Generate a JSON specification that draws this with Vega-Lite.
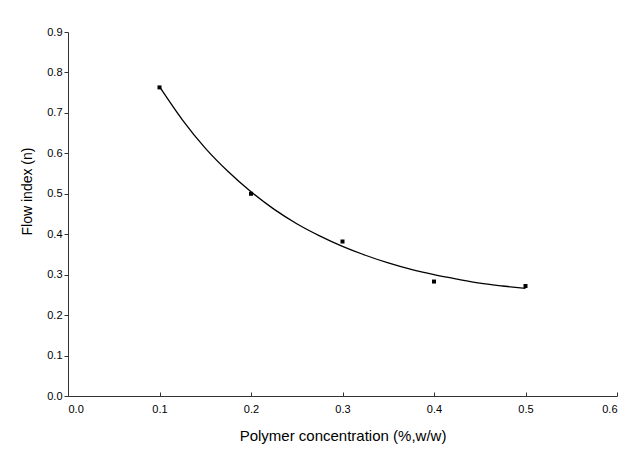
{
  "$schema": "https://vega.github.io/schema/vega-lite/v6.json",
  "width": 549,
  "height": 364,
  "autosize": {"type": "none"},
  "padding": {"left": 68, "top": 32, "right": 17, "bottom": 56},
  "background": "white",
  "config": {
    "view": {"stroke": null},
    "font": "Liberation Sans",
    "axis": {"grid": false, "domainColor": "#333", "tickColor": "#333", "labelColor": "#000", "titleColor": "#000", "labelFont": "Liberation Sans", "titleFont": "Liberation Sans", "titleFontWeight": "normal"}
  },
  "datasets": {
    "pts": [
      {"c": 0.1, "n": 0.763},
      {"c": 0.2, "n": 0.5},
      {"c": 0.3, "n": 0.382},
      {"c": 0.4, "n": 0.283},
      {"c": 0.5, "n": 0.272}
    ],
    "fit": [
      {"c": 0.1, "n": 0.765},
      {"c": 0.125, "n": 0.683},
      {"c": 0.15, "n": 0.613},
      {"c": 0.175, "n": 0.555},
      {"c": 0.2, "n": 0.505},
      {"c": 0.225, "n": 0.462},
      {"c": 0.25, "n": 0.426},
      {"c": 0.275, "n": 0.396},
      {"c": 0.3, "n": 0.37},
      {"c": 0.325, "n": 0.348},
      {"c": 0.35, "n": 0.329},
      {"c": 0.375, "n": 0.313},
      {"c": 0.4, "n": 0.3},
      {"c": 0.425, "n": 0.289},
      {"c": 0.45, "n": 0.279},
      {"c": 0.475, "n": 0.272},
      {"c": 0.5, "n": 0.266}
    ]
  },
  "layer": [
    {
      "data": {"name": "fit"},
      "mark": {"type": "line", "color": "#000", "strokeWidth": 1.3, "interpolate": "monotone"},
      "encoding": {
        "x": {"field": "c", "type": "quantitative", "scale": {"domain": [0, 0.6], "nice": false},
          "axis": {"values": [0, 0.1, 0.2, 0.3, 0.4, 0.5, 0.6], "format": ".1f", "tickSize": -4, "labelPadding": 11, "labelFontSize": 11, "title": "Polymer concentration (%,w/w)", "titleFontSize": 15, "titlePadding": 14}},
        "y": {"field": "n", "type": "quantitative", "scale": {"domain": [0, 0.9], "nice": false},
          "axis": {"values": [0, 0.1, 0.2, 0.3, 0.4, 0.5, 0.6, 0.7, 0.8, 0.9], "format": ".1f", "tickSize": 4, "labelPadding": 2, "labelFontSize": 11, "title": "Flow index (n)", "titleFontSize": 14, "titlePadding": 12, "titleY": 159}}
      }
    },
    {
      "data": {"name": "pts"},
      "mark": {"type": "square", "color": "#000", "opacity": 1, "filled": true, "size": 16},
      "encoding": {
        "x": {"field": "c", "type": "quantitative"},
        "y": {"field": "n", "type": "quantitative"}
      }
    }
  ]
}
